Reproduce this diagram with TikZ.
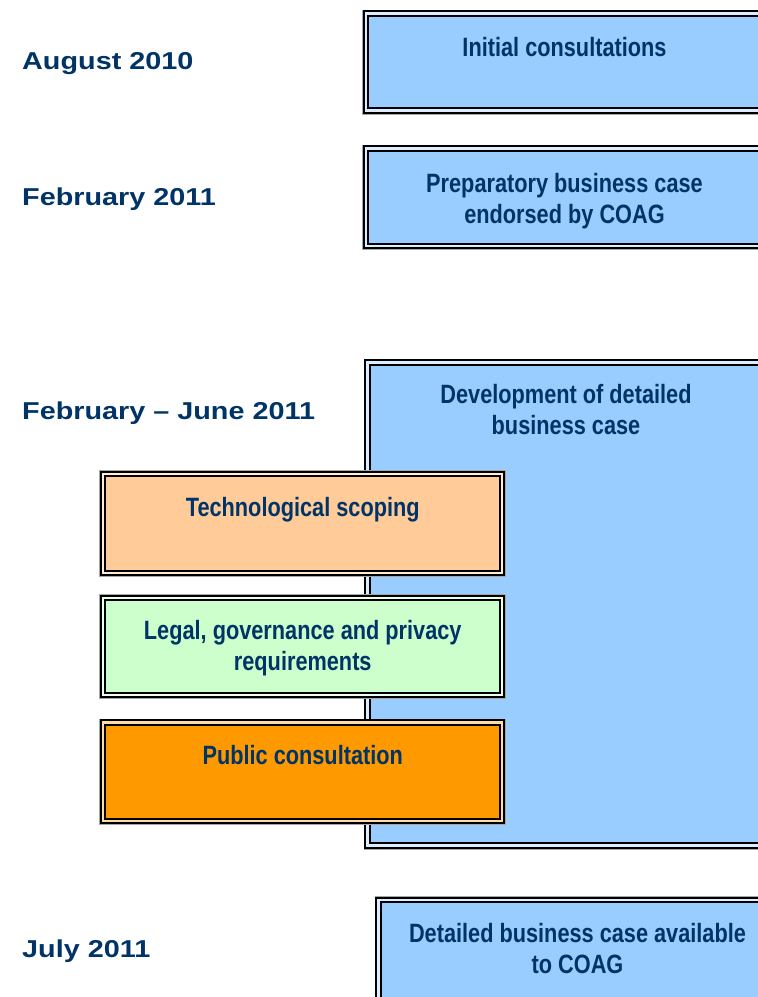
\documentclass[tikz,border=0pt]{standalone}
\usepackage{fontspec}
\setmainfont{Liberation Sans}
\newfontfamily\datefont{Liberation Sans}[FakeStretch=1.18]
\newfontfamily\stagefont{Liberation Sans}[FakeStretch=0.82]
\definecolor{navy}{RGB}{0,51,102}
\definecolor{skyfill}{RGB}{153,204,255}
\definecolor{peachfill}{RGB}{255,204,153}
\definecolor{mintfill}{RGB}{204,255,204}
\definecolor{amberfill}{RGB}{255,153,0}
\tikzset{
  stage/.style={rectangle, inner sep=0pt, fill=#1, draw=black,
    line width=2pt, double=#1!35!white, double distance=2.4pt,
    preaction={draw=black!35, line width=8pt}},
  datelabel/.style={anchor=base west, inner sep=0pt, text=navy,
    font=\datefont\bfseries\fontsize{24.4}{29}\selectfont},
  stagetext/.style={anchor=base, inner sep=0pt, text=navy,
    font=\stagefont\bfseries\fontsize{26.5}{31}\selectfont},
}
\begin{document}
\begin{tikzpicture}[x=1pt,y=-1pt]
\useasboundingbox (0,0) rectangle (758,997);
\clip (0,0) rectangle (758,997);

% timeline dates
\node[datelabel] (d1) at (22,69.5) {August 2010};
\node[datelabel] (d2) at (22,205) {February 2011};
\node[datelabel] (d3) at (22,419.5) {February – June 2011};
\node[datelabel] (d4) at (22,957) {July 2011};

% milestone boxes
\node[stage=skyfill, minimum width=401pt, minimum height=97pt] (initial) at (566.5,62) {};
\node[stagetext] (initialtxt) at (564.5,56.5) {Initial consultations};

\node[stage=skyfill, minimum width=401pt, minimum height=97.5pt] (prep) at (566.5,197.25) {};
\node[stagetext] (preptxt1) at (564.5,192) {Preparatory business case};
\node[stagetext] (preptxt2) at (564.5,223) {endorsed by COAG};

\node[stage=skyfill, minimum width=399pt, minimum height=483pt] (devel) at (567,604) {};
\node[stagetext] (develtxt1) at (566,403.5) {Development of detailed};
\node[stagetext] (develtxt2) at (566,434) {business case};

% work streams laid over the development box
\node[stage=peachfill, minimum width=399pt, minimum height=99pt] (tech) at (302.75,523.5) {};
\node[stagetext] (techtxt) at (302.75,516.7) {Technological scoping};

\node[stage=mintfill, minimum width=399pt, minimum height=97pt] (legal) at (302.75,646.5) {};
\node[stagetext] (legaltxt1) at (302.75,639.3) {Legal, governance and privacy};
\node[stagetext] (legaltxt2) at (302.75,670) {requirements};

\node[stage=amberfill, minimum width=399pt, minimum height=98.5pt] (public) at (302.75,771.75) {};
\node[stagetext] (publictxt) at (302.75,764) {Public consultation};

\node[stage=skyfill, minimum width=398pt, minimum height=150pt] (detail) at (577.5,975) {};
\node[stagetext] (detailtxt1) at (577.5,942.7) {Detailed business case available};
\node[stagetext] (detailtxt2) at (577.5,973.3) {to COAG};
\end{tikzpicture}
\end{document}
